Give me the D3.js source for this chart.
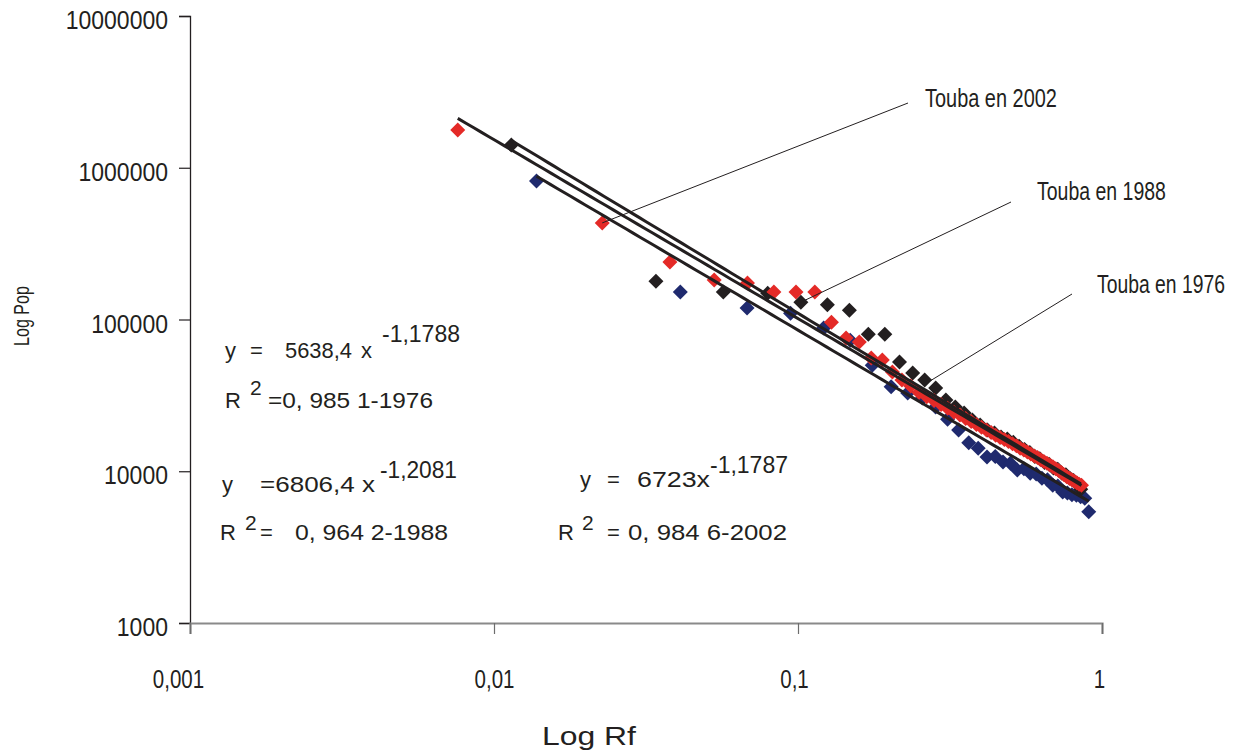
<!DOCTYPE html>
<html>
<head>
<meta charset="utf-8">
<script src="https://cdn.jsdelivr.net/npm/d3@7"></script>
<style>
  html, body { margin: 0; padding: 0; background: #ffffff; }
  svg { display: block; }
</style>
</head>
<body>
<svg id="chart" width="1239" height="751"></svg>
<script>
// ---------- data ----------
const xTicks = [0.001, 0.01, 0.1, 1];
const xTickLabels = ["0,001", "0,01", "0,1", "1"];
const yTicks = [1000, 10000, 100000, 1000000, 10000000];
const yTickLabels = ["1000", "10000", "100000", "1000000", "10000000"];

const years = ["1976", "1988", "2002"];

const rf1976 = [0.0138,0.041,0.068,0.0945,0.1215,0.1485,0.1755,0.2025,0.2295,0.2565,0.2835,0.3105,0.3375,0.3645,0.3915,0.4185,0.4455,0.4725,0.4995,0.5265,0.5535,0.5805,0.6075,0.6345,0.6615,0.6885,0.7155,0.7425,0.7695,0.7965,0.8235,0.8505,0.8775,0.9045];
const pop1976 = [818000,152000,119000,110000,88000,73000,50000,36000,32800,30400,26500,22000,18700,15400,14200,12400,12500,11500,11300,10200,10400,9700,9600,9000,8800,8100,8000,7300,7200,7000,6950,6800,6650,5400];

const rf1988 = [0.0114,0.0341,0.0568,0.0795,0.1022,0.1249,0.1476,0.1703,0.193,0.2157,0.2384,0.2611,0.2838,0.3065,0.3292,0.3519,0.3746,0.3973,0.42,0.4427,0.4654,0.4881,0.5108,0.5335,0.5562,0.5789,0.6016,0.6243,0.647,0.6697,0.6924,0.7151,0.7378,0.7605,0.7832,0.8059,0.8286,0.8513];
const pop1988 = [1410000,179000,152000,149000,130000,125000,115000,80000,80000,52500,44400,39900,35400,29500,26500,24200,21800,20200,18700,17900,16800,16300,15500,14600,13900,13300,12500,12100,11400,11100,10500,10300,9700,9500,9000,8700,8300,7600];

const rf2002 = [0.0076,0.0227,0.0379,0.053,0.0682,0.0833,0.0985,0.1136,0.1288,0.1439,0.1591,0.1742,0.1894,0.2045,0.2197,0.2349,0.25,0.2652,0.2803,0.2955,0.3106,0.3258,0.3409,0.3561,0.3712,0.3864,0.4015,0.4167,0.4318,0.447,0.4621,0.4773,0.4924,0.5076,0.5227,0.5379,0.553,0.5682,0.5833,0.5985,0.6136,0.6288,0.6439,0.6591,0.6742,0.6894,0.7045,0.7197,0.7348,0.75,0.7652,0.7803,0.7955,0.8106,0.8258,0.8409,0.8561];
const pop2002 = [1770000,433000,239000,182000,174000,152000,152000,152000,96000,75500,71000,55700,54000,45100,40000,36500,33000,31000,29300,27500,26000,24500,23500,22300,21300,20300,19500,18700,18000,17300,16700,16200,15700,15200,14700,14200,13800,13400,13000,12600,12300,11900,11600,11300,11000,10700,10400,10100,9800,9500,9200,9000,8800,8600,8400,8200,8100];

// power trendline coefficients y = a * x^b
const trendA = [5638.4, 6806.4, 6723];
const trendB = [-1.1788, -1.2081, -1.1787];

// annotation labels and the data point each leader line points at
const annLabels = ["Touba en 2002", "Touba en 1988", "Touba en 1976"];
const annTargetRf = [0.0227, 0.1022, 0.27];
const annTargetPop = [433000, 130000, 39000];

// ---------- drawing ----------
const svg = d3.select("#chart");
const FONT = "'Liberation Sans', Arial, Helvetica, sans-serif";
const INK = "#231f20";
const colors = ["#1f2a6e", "#231f20", "#e42a27"];

svg.append("rect").attr("width", 1239).attr("height", 751).attr("fill", "#fff");

const x = d3.scaleLog().domain([0.001, 1]).range([190, 1102]);
const y = d3.scaleLog().domain([1000, 10000000]).range([623, 16]);

function fitWidth(sel, w) {
  sel.attr("textLength", w).attr("lengthAdjust", "spacingAndGlyphs");
  return sel;
}
function txt(px, py, s, size, w, anchor) {
  const t = svg.append("text")
    .attr("x", px).attr("y", py)
    .attr("font-family", FONT).attr("font-size", size)
    .attr("fill", INK)
    .attr("text-anchor", anchor || "start")
    .text(s);
  if (w) fitWidth(t, w);
  return t;
}
// horizontally condensed text via a scale transform (keeps true bounding box)
function condensed(px, py, s, size, w, anchor, rotate) {
  const t = svg.append("text")
    .attr("x", 0).attr("y", 0)
    .attr("font-family", FONT).attr("font-size", size)
    .attr("fill", INK)
    .attr("text-anchor", anchor || "start")
    .text(s);
  const nat = t.node().getComputedTextLength();
  const sx = w / nat;
  t.attr("transform", `translate(${px},${py})${rotate ? " rotate(" + rotate + ")" : ""} scale(${sx},1)`);
  return t;
}

// Y axis
const yAxis = d3.axisLeft(y)
  .tickValues(yTicks)
  .tickFormat((d, i) => yTickLabels[i])
  .tickSize(11)
  .tickPadding(11);
const gy = svg.append("g").attr("transform", "translate(190,0)").call(yAxis);
gy.select(".domain").attr("stroke", INK).attr("stroke-width", 1.3);
gy.selectAll(".tick line").attr("stroke", INK).attr("stroke-width", 1.2);
gy.selectAll(".tick text")
  .attr("font-family", FONT).attr("font-size", 25).attr("fill", INK)
  .attr("dy", "0.5em")
  .each(function () {
    const w = this.getComputedTextLength();
    d3.select(this).attr("textLength", w * 0.92).attr("lengthAdjust", "spacingAndGlyphs");
  });

// X axis
const xLabelShift = [-12, 0, -4, -3];
const xAxis = d3.axisBottom(x)
  .tickValues(xTicks)
  .tickFormat((d, i) => xTickLabels[i])
  .tickSize(11)
  .tickPadding(0);
const gx = svg.append("g").attr("transform", "translate(0,623)").call(xAxis);
gx.select(".domain").attr("stroke", "#8a8a8a").attr("stroke-width", 2.2);
gx.selectAll(".tick line").attr("stroke", "#6d6d6d").attr("stroke-width", 1.2);
gx.selectAll(".tick text")
  .attr("font-family", FONT).attr("font-size", 25).attr("fill", INK)
  .attr("y", 65).attr("dy", 0)
  .attr("dx", (d, i) => xLabelShift[i])
  .each(function () {
    const w = this.getComputedTextLength();
    d3.select(this).attr("textLength", w * 0.82).attr("lengthAdjust", "spacingAndGlyphs");
  });

// axis titles
condensed(29, 316, "Log Pop", 22, 60, "middle", -90);
condensed(589, 745, "Log   Rf", 25, 94, "middle");

// markers
const diamond = "M0,-7.5L7.5,0L0,7.5L-7.5,0Z";
const seriesRf = [rf1976, rf1988, rf2002];
const seriesPop = [pop1976, pop1988, pop2002];
seriesRf.forEach((rf, s) => {
  const pts = rf.map((v, i) => [v, seriesPop[s][i]]);
  svg.append("g").selectAll("path").data(pts).join("path")
    .attr("d", diamond)
    .attr("transform", d => `translate(${x(d[0])},${y(d[1])})`)
    .attr("fill", colors[s]);
});

// trendlines (power fits)
const line = d3.line().x(d => x(d[0])).y(d => y(d[1]));
seriesRf.forEach((rf, s) => {
  const lo = d3.min(rf), hi = d3.max(rf);
  const n = 80;
  const pts = d3.range(n + 1).map(i => {
    const xv = Math.pow(10, Math.log10(lo) + (Math.log10(hi) - Math.log10(lo)) * i / n);
    return [xv, trendA[s] * Math.pow(xv, trendB[s])];
  });
  svg.append("path").datum(pts).attr("d", line)
    .attr("fill", "none").attr("stroke", INK).attr("stroke-width", 3);
});

// annotations
const annLabelPos = [[925, 107, 132], [1037, 200, 129], [1097, 293, 128]];
const annLineStart = [[908, 103], [1011, 202], [1072, 294]];
annLabels.forEach((lab, i) => {
  svg.append("line")
    .attr("x1", annLineStart[i][0]).attr("y1", annLineStart[i][1])
    .attr("x2", x(annTargetRf[i])).attr("y2", y(annTargetPop[i]))
    .attr("stroke", INK).attr("stroke-width", 1);
  condensed(annLabelPos[i][0], annLabelPos[i][1], lab, 25, annLabelPos[i][2]);
});

// equations
// 1976
txt(225, 358, "y", 22);
txt(250, 358, "=", 22);
txt(285, 358, "5638,4", 22, 67);
txt(361, 358, "x", 22);
txt(382, 342, "-1,1788", 23, 78);
txt(225, 408, "R", 22);
txt(250, 395, "2", 21);
txt(268, 408, "=0, 985 1-1976", 22, 165);
// 1988
txt(222, 492, "y", 22);
txt(260, 492, "=6806,4 x", 22, 115);
txt(380, 478, "-1,2081", 23, 77);
txt(220, 540, "R", 22);
txt(245, 530, "2", 21);
txt(260, 540, "=", 22);
txt(295, 540, "0, 964 2-1988", 22, 153);
// 2002
txt(580, 487, "y", 22);
txt(607, 487, "=", 22);
txt(637, 487, "6723x", 22, 73);
txt(710, 473, "-1,1787", 23, 78);
txt(558, 540, "R", 22);
txt(582, 530, "2", 21);
txt(607, 540, "=", 22);
txt(628, 540, "0, 984 6-2002", 22, 159);
</script>
</body>
</html>
